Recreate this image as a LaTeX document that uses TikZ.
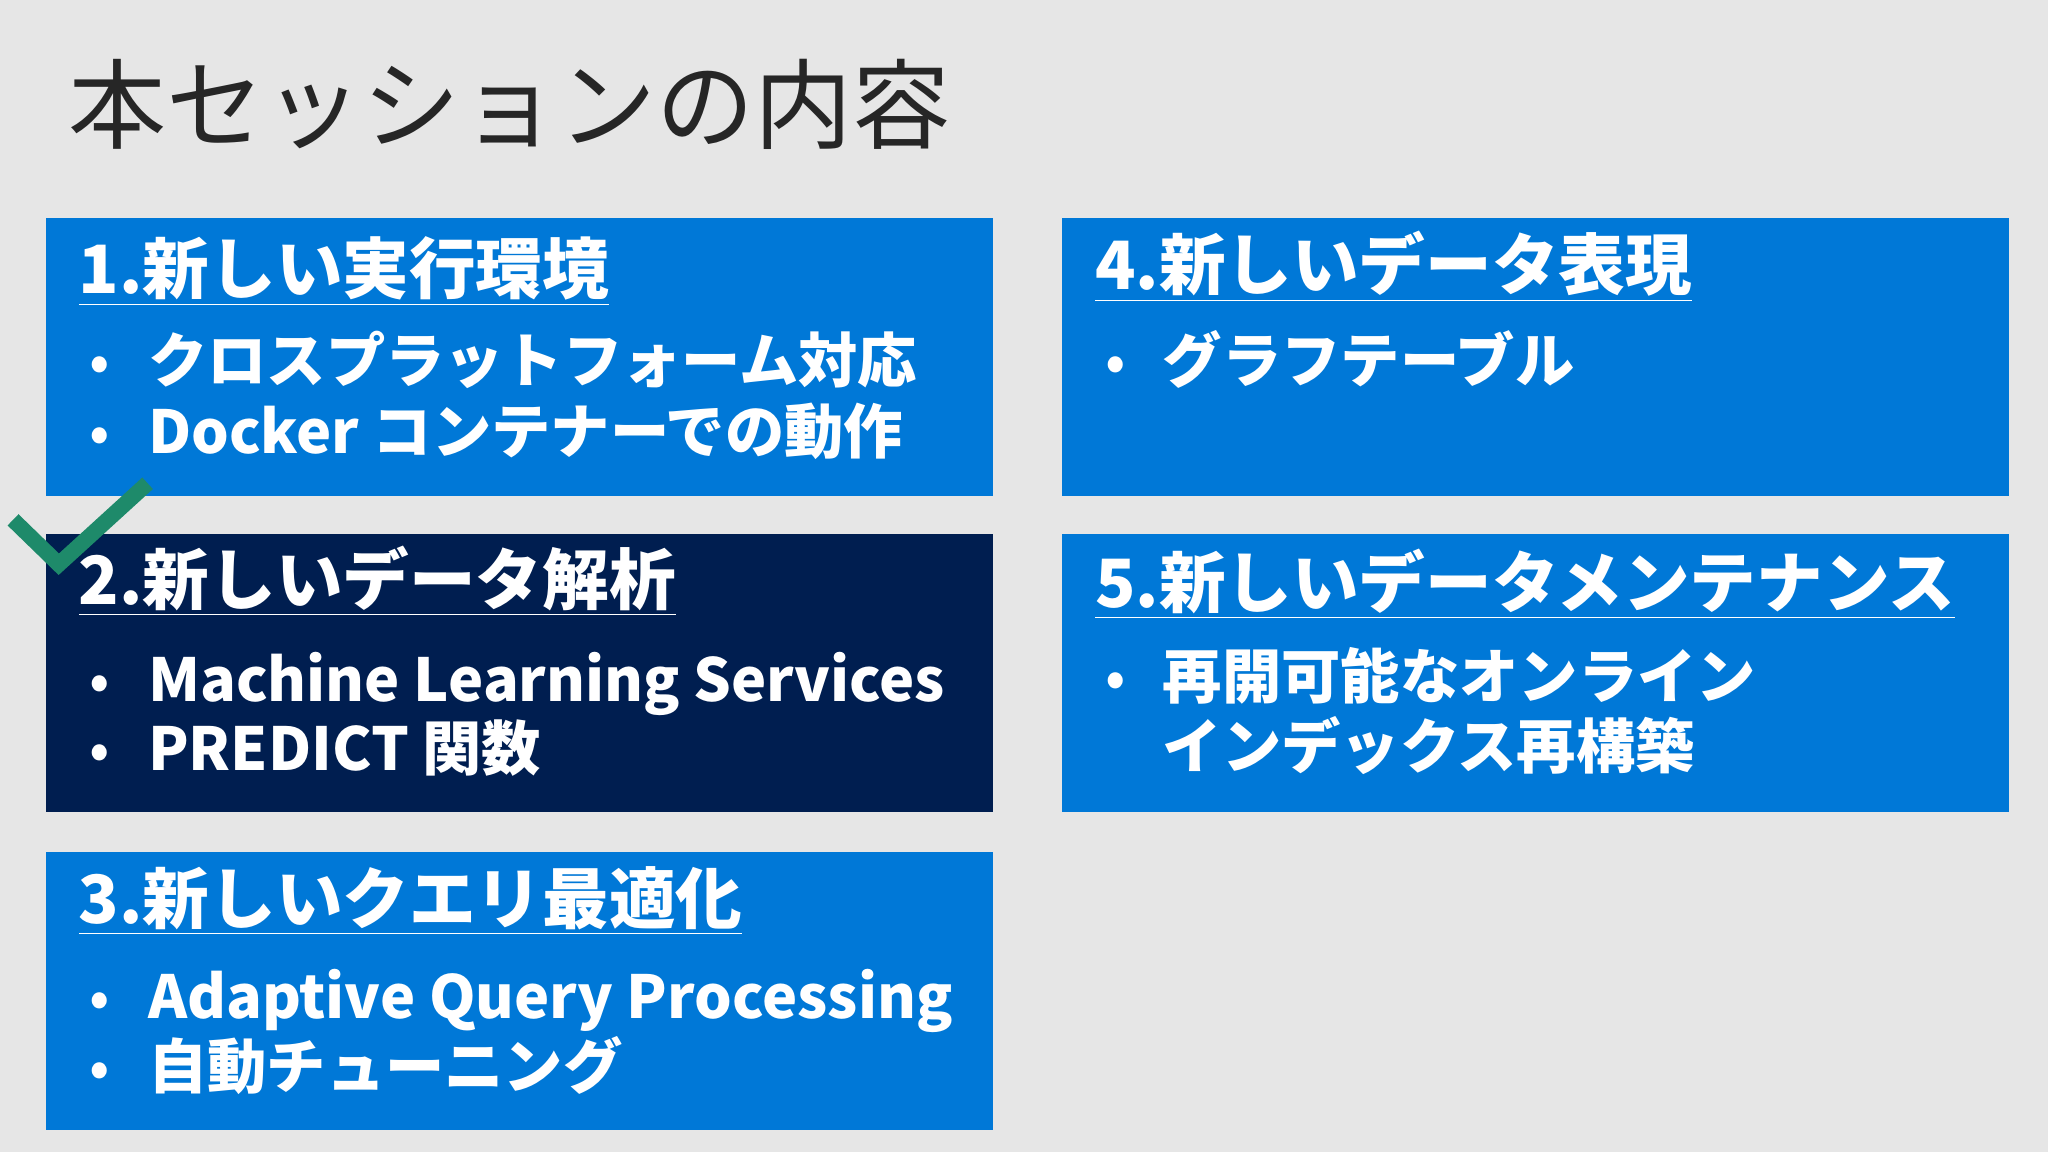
\documentclass[tikz,border=0pt]{standalone}
\usepackage{fontspec}
\setmainfont{Noto Sans CJK JP}
\definecolor{bg}{HTML}{E6E6E6}
\definecolor{bblue}{HTML}{0078D7}
\definecolor{navy}{HTML}{001E50}
\definecolor{chk}{HTML}{1E8A6A}
\begin{document}
\begin{tikzpicture}[x=0.5pt,y=-0.5pt,
  box/.style={fill=bblue,draw=none},
  head/.style={anchor=base west,inner sep=0pt,text=white,font=\fontsize{25.5}{30}\selectfont\bfseries},
  item/.style={anchor=base west,inner sep=0pt,text=white,font=\fontsize{22.7}{28}\selectfont\bfseries},
  dot/.style={anchor=base west,inner sep=0pt,text=white,font=\fontsize{23}{28}\selectfont}]
\fill[bg] (0,0) rectangle (1568,882);
\useasboundingbox (0,0) rectangle (1568,882);
\node[anchor=base west,inner sep=0pt,text=black!85,font=\fontsize{37.5}{40}\selectfont] (title) at (52,108) {本セッションの内容};
\fill[box] (35,167) rectangle (760,380);
\fill[box] (813,167) rectangle (1538,380);
\fill[navy] (35,409) rectangle (760,622);
\fill[box] (813,409) rectangle (1538,622);
\fill[box] (35,652) rectangle (760,865);
% box 1
\node[head] (h1) at (60,225) {\underline{1.新しい実行環境}};
\node[dot] (d11) at (68,293) {•}; \node[item] (t11) at (113,293) {クロスプラットフォーム対応};
\node[dot] (d12) at (68,347) {•}; \node[item] (t12) at (113,347) {Docker コンテナーでの動作};
% box 2
\node[head] (h2) at (60,463) {\underline{2.新しいデータ解析}};
\node[dot] (d21) at (68,537) {•}; \node[item] (t21) at (113,537) {Machine Learning Services};
\node[dot] (d22) at (68,590) {•}; \node[item] (t22) at (113,590) {PREDICT 関数};
% box 3
\node[head] (h3) at (60,707) {\underline{3.新しいクエリ最適化}};
\node[dot] (d31) at (68,780) {•}; \node[item] (t31) at (113,780) {Adaptive Query Processing};
\node[dot] (d32) at (68,833) {•}; \node[item] (t32) at (113,833) {自動チューニング};
% box 4
\node[head] (h4) at (838,222) {\underline{4.新しいデータ表現}};
\node[dot] (d41) at (846,293) {•}; \node[item] (t41) at (890,293) {グラフテーブル};
% box 5
\node[head] (h5) at (838,465) {\underline{5.新しいデータメンテナンス}};
\node[dot] (d51) at (846,535) {•}; \node[item] (t51) at (890,535) {再開可能なオンライン};
\node[item] (t52) at (890,588) {インデックス再構築};
% check mark
\draw[chk,line width=6pt] (10,398) -- (45,432) -- (113,370);
\end{tikzpicture}
\end{document}
